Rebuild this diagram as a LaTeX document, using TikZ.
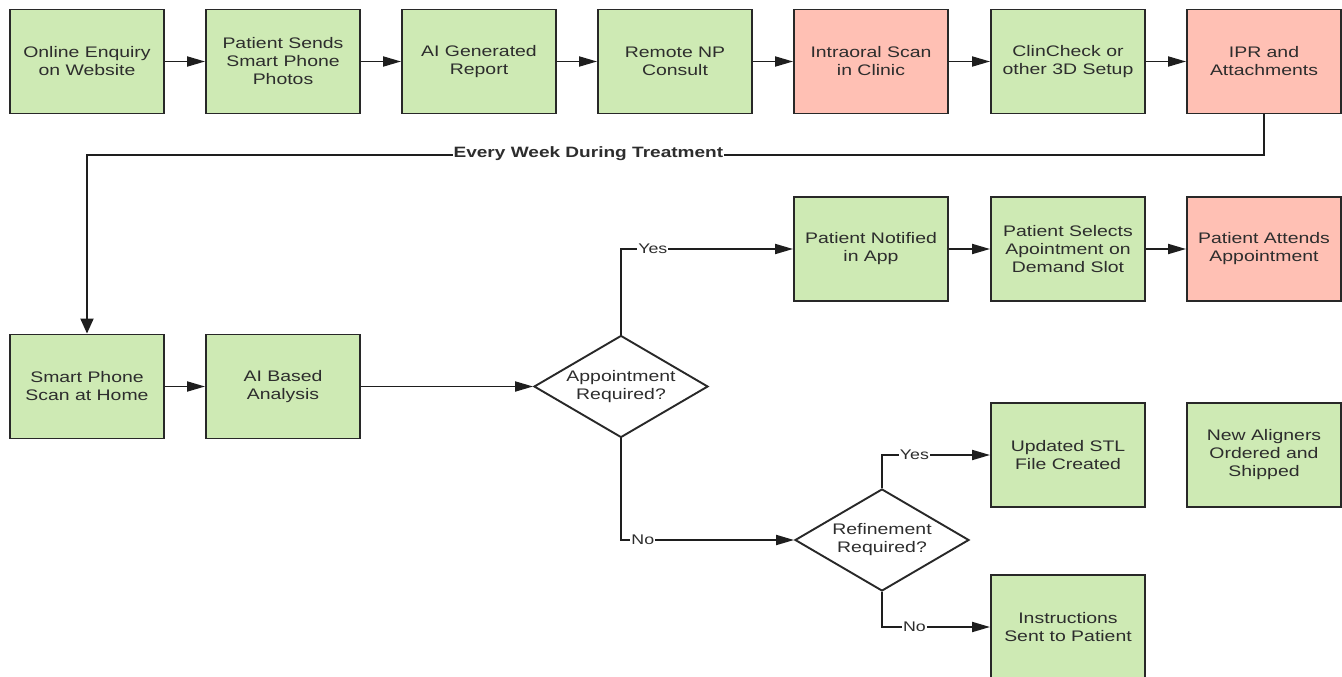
\documentclass[tikz,border=0pt]{standalone}
\usepackage{fontspec}
\setmainfont{Liberation Sans}[FakeStretch=1.27]
\usetikzlibrary{arrows.meta,shapes.geometric}
\definecolor{gfill}{RGB}{206,234,180}
\definecolor{rfill}{RGB}{255,192,180}
\definecolor{bordc}{RGB}{40,40,40}
\definecolor{lnc}{RGB}{30,30,30}
\definecolor{txt}{RGB}{45,45,45}
\begin{document}
\begin{tikzpicture}[x=1pt,y=-1pt,
  box/.style={draw=bordc, line width=1.9pt, minimum width=154pt, minimum height=104pt, inner sep=0pt, align=center, text=txt, font=\fontsize{15.3}{18}\selectfont},
  gbox/.style={box, fill=gfill},
  rbox/.style={box, fill=rfill},
  dec/.style={diamond, draw=bordc, line width=1.9pt, fill=white, minimum width=174pt, minimum height=102pt, inner sep=0pt, aspect=1.7, align=center, text=txt, font=\fontsize{15.3}{18}\selectfont},
  conn/.style={draw=lnc, line width=1.9pt, -{Triangle[length=18pt,width=10pt]}},
  vconn/.style={draw=lnc, line width=1.9pt, -{Triangle[length=15pt,width=13pt]}},
  lbl/.style={fill=white, inner sep=1pt, text=txt, font=\fontsize{14}{16}\selectfont},
  blbl/.style={fill=white, inner sep=1pt, text=txt, font=\fontsize{15}{18}\selectfont\bfseries}]
\fill[white] (0,0) rectangle (1342,677);
\useasboundingbox (0,0) rectangle (1342,677);

% top row
\node[gbox] (b1) at (87,61.5) {Online Enquiry\\on Website};
\node[gbox] (b2) at (283,61.5) {Patient Sends\\Smart Phone\\Photos};
\node[gbox] (b3) at (479,61.5) {AI Generated\\Report};
\node[gbox] (b4) at (675,61.5) {Remote NP\\Consult};
\node[rbox] (b5) at (871,61.5) {Intraoral Scan\\in Clinic};
\node[gbox] (b6) at (1068,61.5) {ClinCheck or\\other 3D Setup};
\node[rbox] (b7) at (1264,61.5) {IPR and\\Attachments};

% second row
\node[gbox] (n1) at (871,249) {Patient Notified\\in App};
\node[gbox] (n2) at (1068,249) {Patient Selects\\Apointment on\\Demand Slot};
\node[rbox] (n3) at (1264,249) {Patient Attends\\Appointment};

% third row
\node[gbox] (s1) at (87,386.5) {Smart Phone\\Scan at Home};
\node[gbox] (s2) at (283,386.5) {AI Based\\Analysis};
\node[dec] (d1) at (621,386.5) {Appointment\\Required?};
\node[gbox] (u1) at (1068,455) {Updated STL\\File Created};
\node[gbox] (u2) at (1264,455) {New Aligners\\Ordered and\\Shipped};
\node[dec] (d2) at (882,540) {Refinement\\Required?};
\node[gbox] (i1) at (1068,627) {Instructions\\Sent to Patient};

% top row connectors
\draw[conn] (b1) -- (b2);
\draw[conn] (b2) -- (b3);
\draw[conn] (b3) -- (b4);
\draw[conn] (b4) -- (b5);
\draw[conn] (b5) -- (b6);
\draw[conn] (b6) -- (b7);

% weekly loop
\coordinate (c1) at (1264,155);
\coordinate (c2) at (87,155);
\draw[vconn] (b7.south) -- (c1) -- node[blbl, pos=0.574, yshift=1pt] {Every Week During Treatment} (c2) -- (s1.north);

% lower flows
\draw[conn] (s1) -- (s2);
\draw[conn] (s2) -- (d1.west);
\coordinate (y1) at (621,249);
\draw[conn] (d1.north) -- (y1) -- node[lbl, pos=0.185] {Yes} (n1.west);
\draw[conn] (n1) -- (n2);
\draw[conn] (n2) -- (n3);
\coordinate (no1) at (621,540);
\draw[conn] (d1.south) -- (no1) -- node[lbl, pos=0.126] {No} (d2.west);
\coordinate (y2) at (882,455);
\draw[conn] (d2.north) -- (y2) -- node[lbl, pos=0.3] {Yes} (u1.west);
\coordinate (no2) at (882,627);
\draw[conn] (d2.south) -- (no2) -- node[lbl, pos=0.3] {No} (i1.west);
\end{tikzpicture}
\end{document}
